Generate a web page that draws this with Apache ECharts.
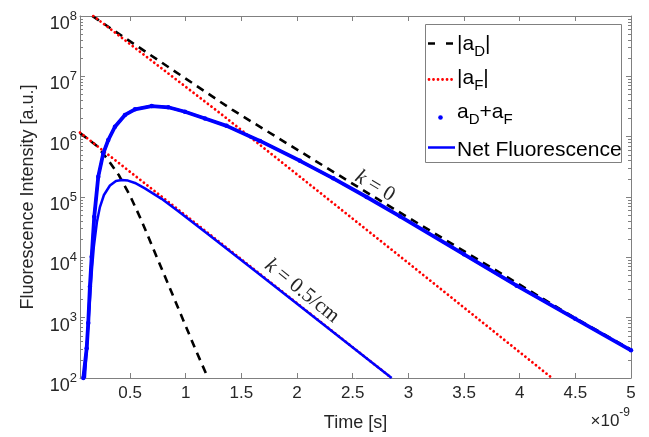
<!DOCTYPE html>
<html>
<head>
<meta charset="utf-8">
<title>Fluorescence decay</title>
<script src="https://cdn.jsdelivr.net/npm/echarts@6.0.0/dist/echarts.min.js"></script>
<style>
  html, body { margin: 0; padding: 0; background: #ffffff; }
  #chart { width: 649px; height: 437px; }
</style>
</head>
<body>
<div id="chart"></div>
<script>
// Time in units of 1e-9 s, intensity in arbitrary units.
const xTickValues = [0.5, 1, 1.5, 2, 2.5, 3, 3.5, 4, 4.5, 5];
const xTickLabels = ['0.5', '1', '1.5', '2', '2.5', '3', '3.5', '4', '4.5', '5'];
const yTickValues = [1e2, 1e3, 1e4, 1e5, 1e6, 1e7, 1e8];
const yTickExponents = ['2', '3', '4', '5', '6', '7', '8'];
const yMinorMantissas = [2, 3, 4, 5, 6, 7, 8, 9];

// k = 0 : donor term |aD|
const timeDonorK0 = [0.16, 1.42, 2.73, 4.48, 5.0];
const donorK0 = [1.0e8, 2.77e6, 9.1e4, 1.03e3, 2.95e2];
// k = 0 : fluorophore term |aF|
const timeFluorK0 = [0.17, 1.31, 2.93, 4.29];
const fluorK0 = [1.0e8, 2.44e6, 1.02e4, 1.0e2];
// k = 0 : aD + aF and net fluorescence
const timeNetK0 = [0.08, 0.11, 0.124, 0.139, 0.155, 0.178, 0.214, 0.259, 0.304, 0.364, 0.454, 0.544, 0.694,
  0.843, 0.993, 1.173, 1.367, 1.667, 2.026, 2.325, 2.625, 2.925, 3.5, 3.973, 4.5, 5.0];
const netK0 = [100, 310, 815, 3.26e3, 1.02e4, 4.71e4, 2.17e5, 5.30e5, 8.81e5, 1.46e6, 2.29e6, 2.84e6, 3.22e6,
  3.07e6, 2.59e6, 2.0e6, 1.51e6, 8.51e5, 3.98e5, 2.04e5, 1.0e5, 4.79e4, 1.12e4, 3.39e3, 955, 288];

// k = 0.5/cm : donor term |aD|
const timeDonorK05 = [0.05, 0.2, 0.3, 0.4, 0.5, 0.6, 0.7, 0.8, 0.9, 1.0, 1.1, 1.2];
const donorK05 = [1.15e6, 7.08e5, 4.17e5, 2.29e5, 1.05e5, 4.17e4, 1.51e4, 5.5e3, 2.0e3, 7.24e2, 2.63e2, 1.0e2];
// k = 0.5/cm : fluorophore term |aF|
const timeFluorK05 = [0.05, 1.17, 2.85];
const fluorK05 = [1.17e6, 2.8e4, 1.0e2];
// k = 0.5/cm : net fluorescence
const timeNetK05 = [0.094, 0.121, 0.139, 0.157, 0.175, 0.202, 0.229, 0.265, 0.319, 0.373, 0.424, 0.481, 0.544,
  0.633, 0.783, 0.933, 1.172, 1.397, 1.696, 2.2, 2.85];
const netK05 = [100, 624, 1.96e3, 6.17e3, 1.54e4, 3.85e4, 6.82e4, 1.08e5, 1.55e5, 1.84e5, 1.91e5, 1.87e5, 1.71e5,
  1.39e5, 9.33e4, 5.82e4, 2.66e4, 1.26e4, 4.68e3, 871, 100];

// curve annotations (data coordinates, angle in degrees)
const curveLabels = ['{i|k} = 0', '{i|k} = 0.5/cm'];
const curveLabelTime = [2.70, 2.044];
const curveLabelValue = [1.52e5, 2.77e3];
const curveLabelAngle = [31, 39];

const SANS = '"Liberation Sans", Arial, Helvetica, sans-serif';
const SERIF = '"Liberation Serif", "Times New Roman", serif';
const AXIS_COLOR = '#808080';
const TEXT_COLOR = '#262626';
const BLUE = '#0000ff';
const RED = '#ff0000';
const BLACK = '#000000';

const pairs = (t, v) => t.map((x, i) => [x, v[i]]);

const yMinorValues = [];
yTickValues.slice(0, -1).forEach(d => yMinorMantissas.forEach(m => yMinorValues.push(m * d)));

function xAxisDef(position, withLabels) {
  return {
    type: 'value', position, min: 0.05, max: 5,
    axisLine: { show: true, onZero: false, lineStyle: { color: AXIS_COLOR, width: 1 } },
    axisTick: { show: true, inside: true, length: 5, customValues: xTickValues,
      lineStyle: { color: AXIS_COLOR, width: 1 } },
    axisLabel: { show: withLabels, customValues: xTickValues, margin: 7,
      fontSize: 17, fontFamily: SANS, color: TEXT_COLOR,
      formatter: v => { const i = xTickValues.findIndex(x => Math.abs(x - v) < 1e-9); return i < 0 ? '' : xTickLabels[i]; } },
    splitLine: { show: false },
    name: withLabels ? 'Time [s]' : '',
    nameLocation: 'middle', nameGap: 36,
    nameTextStyle: { fontSize: 18, fontFamily: SANS, color: TEXT_COLOR }
  };
}

function yAxisMajor(position, withLabels) {
  return {
    type: 'log', logBase: 10, position, min: 1e2, max: 1e8,
    axisLine: { show: true, onZero: false, lineStyle: { color: AXIS_COLOR, width: 1 } },
    axisTick: { show: true, inside: true, length: 5, customValues: yTickValues,
      lineStyle: { color: AXIS_COLOR, width: 1 } },
    axisLabel: { show: withLabels, customValues: yTickValues, margin: 3,
      formatter: v => {
        const i = yTickValues.findIndex(x => Math.abs(Math.log10(x) - Math.log10(v)) < 1e-6);
        return i < 0 ? '' : '{b|10}{s|' + yTickExponents[i] + '}';
      },
      rich: {
        b: { fontSize: 18, fontFamily: SANS, color: TEXT_COLOR, lineHeight: 24, verticalAlign: 'bottom' },
        s: { fontSize: 13, fontFamily: SANS, color: TEXT_COLOR, lineHeight: 34, verticalAlign: 'middle' }
      } },
    splitLine: { show: false },
    minorTick: { show: false },
    name: withLabels ? 'Fluorescence Intensity [a.u.]' : '',
    nameLocation: 'middle', nameGap: 43,
    nameTextStyle: { fontSize: 18, fontFamily: SANS, color: TEXT_COLOR }
  };
}

function yAxisMinor(position) {
  return {
    type: 'log', logBase: 10, position, min: 1e2, max: 1e8,
    axisLine: { show: false },
    axisTick: { show: true, inside: true, length: 3, customValues: yMinorValues,
      lineStyle: { color: AXIS_COLOR, width: 1 } },
    axisLabel: { show: false },
    splitLine: { show: false }
  };
}

function lineSeries(name, t, v, color, width, dash, z, cap) {
  return {
    name, type: 'line', data: pairs(t, v), xAxisIndex: 0, yAxisIndex: 0,
    symbol: 'none', showSymbol: false, clip: true, z, silent: true,
    lineStyle: { color, width, type: dash, cap: cap || 'butt' }
  };
}

const chart = echarts.init(document.getElementById('chart'), null, { renderer: 'canvas' });

chart.setOption({
  animation: false,
  backgroundColor: '#ffffff',
  grid: { left: 80, right: 18, top: 16, bottom: 59, containLabel: false, outerBoundsMode: 'none' },
  xAxis: [xAxisDef('bottom', true), xAxisDef('top', false)],
  yAxis: [yAxisMajor('left', true), yAxisMajor('right', false), yAxisMinor('left'), yAxisMinor('right')],
  series: [
    lineSeries('|aD|', timeDonorK0, donorK0, BLACK, 2.6, [8, 6], 2),
    lineSeries('|aD|', timeDonorK05, donorK05, BLACK, 2.6, [8, 6], 2),
    lineSeries('|aF|', timeFluorK0, fluorK0, RED, 2.8, [0.01, 4.5], 2, 'round'),
    lineSeries('|aF|', timeFluorK05, fluorK05, RED, 2.8, [0.01, 4.5], 2, 'round'),
    {
      name: 'aD+aF', type: 'line', data: pairs(timeNetK0, netK0), xAxisIndex: 0, yAxisIndex: 0,
      symbol: 'circle', symbolSize: 4.5, showSymbol: true, showAllSymbol: true, clip: true, z: 3, silent: true,
      itemStyle: { color: BLUE },
      lineStyle: { color: BLUE, width: 3.8 }
    },
    lineSeries('Net Fluorescence', timeNetK0, netK0, BLUE, 2.5, 'solid', 4),
    lineSeries('Net Fluorescence', timeNetK05, netK05, BLUE, 2.5, 'solid', 4)
  ]
});

// legend box, exponent note and curve annotations
const legendFont = '21px ' + SANS;
const subFont = '15px ' + SANS;
const legendRich = { sub: { font: subFont, fill: BLACK, lineHeight: 18, verticalAlign: 'bottom' } };
function legendText(y, text) {
  return { type: 'text', x: 457, y, z: 102,
    style: { text, font: legendFont, fill: BLACK, lineHeight: 30, align: 'left', verticalAlign: 'middle', rich: legendRich } };
}

const graphics = [
  { type: 'rect', z: 100, shape: { x: 425.5, y: 24.5, width: 196, height: 138 },
    style: { fill: '#ffffff', stroke: AXIS_COLOR, lineWidth: 1 } },
  { type: 'line', z: 101, shape: { x1: 428, y1: 43.5, x2: 455, y2: 43.5 },
    style: { stroke: BLACK, lineWidth: 2.6, lineDash: [7, 11] } },
  { type: 'line', z: 101, shape: { x1: 429, y1: 79.5, x2: 455, y2: 79.5 },
    style: { stroke: RED, lineWidth: 2.8, lineDash: [0.01, 4.5], lineCap: 'round' } },
  { type: 'circle', z: 101, shape: { cx: 440.5, cy: 117.5, r: 2.3 }, style: { fill: BLUE } },
  { type: 'line', z: 101, shape: { x1: 428, y1: 147.5, x2: 455, y2: 147.5 },
    style: { stroke: BLUE, lineWidth: 2.5 } },
  legendText(44, '|a{sub|D}|'),
  legendText(78, '|a{sub|F}|'),
  legendText(112, 'a{sub|D}+a{sub|F}'),
  legendText(150, 'Net Fluorescence'),
  { type: 'text', x: 630, y: 396, z: 102,
    style: { text: '{b|\u00d710}{s|-9}', align: 'right', verticalAlign: 'top',
      rich: {
        b: { font: '17px ' + SANS, fill: TEXT_COLOR, lineHeight: 24, verticalAlign: 'bottom' },
        s: { font: '12px ' + SANS, fill: TEXT_COLOR, lineHeight: 34, verticalAlign: 'middle' }
      } } }
];

curveLabels.forEach((text, i) => {
  const p = chart.convertToPixel({ xAxisIndex: 0, yAxisIndex: 0 }, [curveLabelTime[i], curveLabelValue[i]]);
  graphics.push({
    type: 'text', x: p[0], y: p[1], rotation: -curveLabelAngle[i] * Math.PI / 180, z: 50,
    style: { text, font: '21px ' + SERIF, fill: TEXT_COLOR, align: 'center', verticalAlign: 'middle',
      rich: { i: { font: 'italic 21px ' + SERIF, fill: TEXT_COLOR } } }
  });
});

chart.setOption({ graphic: graphics });
</script>
</body>
</html>
